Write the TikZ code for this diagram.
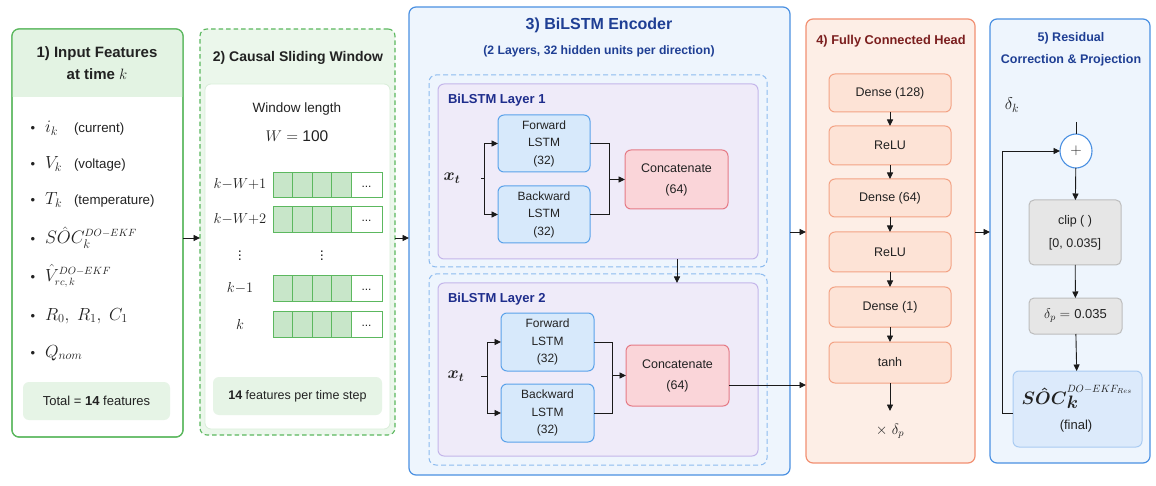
\RequirePackage{fix-cm}
\documentclass[tikz,border=0pt]{standalone}
\usepackage{fontspec}
\setmainfont{Liberation Sans}
\usetikzlibrary{arrows.meta,shapes.geometric,calc}
\definecolor{txt}{HTML}{222222}
\definecolor{gBorder}{HTML}{5CB85F}
\definecolor{gHdr}{HTML}{E3F3E3}
\definecolor{gSoft}{HTML}{E6F4E6}
\definecolor{gCell}{HTML}{C8E6C9}
\definecolor{gInner}{HTML}{D9EED9}
\definecolor{bBorder}{HTML}{4A90E2}
\definecolor{bFill}{HTML}{EEF5FD}
\definecolor{bTitle}{HTML}{1F3F94}
\definecolor{bDash}{HTML}{8DBBEF}
\definecolor{pFill}{HTML}{EFEBF9}
\definecolor{pBorder}{HTML}{C4B6EA}
\definecolor{lTitle}{HTML}{1E2D8C}
\definecolor{lstmFill}{HTML}{D7E9FB}
\definecolor{lstmBorder}{HTML}{5AA2EA}
\definecolor{catFill}{HTML}{FAD5D9}
\definecolor{catBorder}{HTML}{E57A86}
\definecolor{oBorder}{HTML}{F29072}
\definecolor{oFill}{HTML}{FDEEE6}
\definecolor{oBox}{HTML}{FDE3D6}
\definecolor{oBoxB}{HTML}{F3A385}
\definecolor{oTitle}{HTML}{7B1E1E}
\definecolor{grFill}{HTML}{E6E6E6}
\definecolor{grBorder}{HTML}{BDBDBD}
\definecolor{finFill}{HTML}{DCEAFB}
\definecolor{finBorder}{HTML}{A9CBF2}
\definecolor{lineC}{HTML}{1A1A1A}
\newcommand\rbox[7]{\node[#2, minimum width={#5pt-#3pt}, minimum height={#6pt-#4pt}] (#1) at ({(#3+#5)/2},{(#4+#6)/2}) {#7};}
\newcommand\fs[2]{\fontsize{#1}{#2}\selectfont}
\newcommand\supsm[1]{\mbox{\fs{10.5}{12}$#1$}}
\begin{document}
\begin{tikzpicture}[x=1pt,y=-1pt,
  every node/.style={inner sep=0pt, outer sep=0pt, align=center, text=txt},
  arr/.style={-{Triangle[length=6.5pt,width=6pt]}, line width=0.9pt, draw=lineC},
  ln/.style={line width=0.9pt, draw=lineC},
  panelG/.style={draw=gBorder, line width=1.2pt, rounded corners=7pt, fill=white},
  panelGd/.style={draw=gBorder, line width=1.1pt, dash pattern=on 4.5pt off 3pt, rounded corners=7pt, fill=gHdr!70!white},
  panelB/.style={draw=bBorder, line width=1.2pt, rounded corners=7pt, fill=bFill},
  panelO/.style={draw=oBorder, line width=1.2pt, rounded corners=7pt, fill=oFill},
  softG/.style={fill=gSoft, rounded corners=6pt},
  innerW/.style={fill=white, draw=gInner, line width=0.8pt, rounded corners=6pt},
  dashB/.style={draw=bDash, line width=1pt, dash pattern=on 5pt off 3pt, rounded corners=7pt},
  layerbox/.style={draw=pBorder, line width=1pt, fill=pFill, rounded corners=6pt},
  lstm/.style={draw=lstmBorder, line width=1pt, fill=lstmFill, rounded corners=6pt, font=\fs{12}{17.5}},
  cat/.style={draw=catBorder, line width=1pt, fill=catFill, rounded corners=6pt, font=\fs{12.5}{21}},
  fc/.style={draw=oBoxB, line width=1pt, fill=oBox, rounded corners=6pt, font=\fs{12.5}{15}},
  gr/.style={draw=grBorder, line width=1pt, fill=grFill, rounded corners=5pt, font=\fs{12.5}{23}},
  fin/.style={draw=finBorder, line width=1pt, fill=finFill, rounded corners=6pt, font=\fs{12.5}{15}},
  cellG/.style={draw=gBorder, line width=0.9pt, fill=gCell},
  cellW/.style={draw=gBorder, line width=0.9pt, fill=white},
  item/.style={anchor=base west, font=\fs{17.5}{19}},
  itemtxt/.style={anchor=base west, font=\fs{13.3}{15}},
  bul/.style={anchor=base, font=\fs{13}{15}},
  rowlab/.style={font=\fs{14.5}{16}},
]
\useasboundingbox (0,0) rectangle (1156,486);
\fill[white] (0,0) rectangle (1156,486);

% ---------------- Panel 1 ----------------
\rbox{p1}{panelG}{12}{29}{183}{437}{}
\begin{scope}
  \clip[rounded corners=7pt] (12,29) rectangle (183,437);
  \fill[gHdr] (12,29) rectangle (183,97);
\end{scope}
\draw[draw=gBorder, line width=1.2pt, rounded corners=7pt] (12,29) rectangle (183,437);
\node[font=\fs{15}{22}\bfseries] (t1) at (97,63) {1) Input Features\\at time $k$};
\foreach \n/\y in {a/133,b/169,c/205,d/244,e/281,f/320,g/357}{
  \node[bul] (bu\n) at (33,\y) {\textbullet};
}
\node[item] (i1) at (45,133) {$i_k$};
\node[itemtxt] (i1t) at (74,133) {(current)};
\node[item] (i2) at (45,169) {$V_k$};
\node[itemtxt] (i2t) at (74,169) {(voltage)};
\node[item] (i3) at (45,205) {$T_k$};
\node[itemtxt] (i3t) at (74,205) {(temperature)};
\node[item, font=\fs{18}{19}] (i4) at (45,244) {$S\hat{O}C_k^{\supsm{DO{-}EKF}}$};
\node[item] (i5) at (45,281) {$\hat{V}_{\supsm{rc,k}}^{\supsm{DO{-}EKF}}$};
\node[item] (i6) at (45,320) {$R_0,\ R_1,\ C_1$};
\node[item] (i7) at (45,357) {$Q_{nom}$};
\rbox{tot}{softG, font=\fs{13}{15}}{23}{382}{170}{420}{Total = \textbf{14} features}

% ---------------- Panel 2 ----------------
\rbox{p2}{panelGd}{200}{29}{395}{435}{}
\rbox{in2}{innerW}{205}{84}{390}{429}{}
\node[font=\fs{14}{16}\bfseries] (t2) at (298,58) {2) Causal Sliding Window};
\node[font=\fs{13.5}{16}] (wl) at (297,109) {Window length};
\node[font=\fs{15.5}{16}] (wv) at (297,136) {$W =$ 100};
\foreach \n/\ya/\yb in {r1/172/197, r2/206/232, r3/275/301, r4/311/337}{
  \foreach \i in {0,1,2,3}{
    \draw[cellG] ({273+19.5*\i},\ya) rectangle ({273+19.5*(\i+1)},\yb);
  }
  \draw[cellW] (351,\ya) rectangle (382,\yb);
  \node[font=\fs{12}{14}] (\n dots) at (366.5,{(\ya+\yb)/2+2}) {...};
}
\node[rowlab] (k1) at (240,184) {$k{-}W{+}1$};
\node[rowlab] (k2) at (240,219) {$k{-}W{+}2$};
\node[rowlab] (kv1) at (240,253) {$\vdots$};
\node[rowlab] (kv2) at (322,253) {$\vdots$};
\node[rowlab] (k3) at (240,288) {$k{-}1$};
\node[rowlab] (k4) at (240,324) {$k$};
\rbox{fp}{softG, font=\fs{12.5}{15}}{213}{377}{382}{415}{\textbf{14} features per time step}

% ---------------- Panel 3 ----------------
\rbox{p3}{panelB}{409}{7}{790}{475}{}
\node[font=\fs{16}{18}\bfseries, text=bTitle] (t3) at (599,25) {3) BiLSTM Encoder};
\node[font=\fs{12.2}{14}\bfseries, text=bTitle] (t3b) at (599,51) {(2 Layers, 32 hidden units per direction)};
\rbox{dl1}{dashB}{429}{75}{767}{267}{}
\rbox{dl2}{dashB}{429}{274}{767}{465}{}
\rbox{l1}{layerbox}{438}{84}{758}{259}{}
\rbox{l2}{layerbox}{438}{283}{758}{456}{}
\node[anchor=west, font=\fs{13}{15}\bfseries, text=lTitle] (lt1) at (448,100) {BiLSTM Layer 1};
\node[anchor=west, font=\fs{13}{15}\bfseries, text=lTitle] (lt2) at (448,299) {BiLSTM Layer 2};
% layer 1
\rbox{f1}{lstm}{498}{115}{590}{172}{Forward\\LSTM\\(32)}
\rbox{b1}{lstm}{498}{186}{590}{243}{Backward\\LSTM\\(32)}
\rbox{c1}{cat}{625}{150}{728}{209}{Concatenate\\(64)}
\node[font=\fs{17}{19}\boldmath] (xt1) at (452,178) {$x_t$};
\coordinate (s1) at (481,178);
\coordinate (br1) at (484,178);
\coordinate (m1) at (609,179.5);
\draw[ln] (s1) -- (br1);
\draw[arr] (br1) |- (f1.west);
\draw[arr] (br1) |- (b1.west);
\draw[ln] (f1.east) -| (m1);
\draw[ln] (b1.east) -| (m1);
\draw[arr] (m1) -- (c1.west);
% layer 2
\rbox{f2}{lstm}{501}{313}{594}{371}{Forward\\LSTM\\(32)}
\rbox{b2}{lstm}{501}{384}{594}{442}{Backward\\LSTM\\(32)}
\rbox{c2}{cat}{626}{345}{729}{406}{Concatenate\\(64)}
\node[font=\fs{17}{19}\boldmath] (xt2) at (456,376) {$x_t$};
\coordinate (s2) at (481,376);
\coordinate (br2) at (487,376);
\coordinate (m2) at (612,375.5);
\draw[ln] (s2) -- (br2);
\draw[arr] (br2) |- (f2.west);
\draw[arr] (br2) |- (b2.west);
\draw[ln] (f2.east) -| (m2);
\draw[ln] (b2.east) -| (m2);
\draw[arr] (m2) -- (c2.west);
% layer1 -> layer2
\coordinate (x677) at (677,0);
\draw[arr] (l1.south -| x677) -- (l2.north -| x677);

% ---------------- Panel 4 ----------------
\rbox{p4}{panelO}{806}{19}{975}{463}{}
\node[font=\fs{12.8}{15}\bfseries, text=oTitle] (t4) at (891,41) {4) Fully Connected Head};
\rbox{d128}{fc}{829}{74}{951}{112}{Dense (128)}
\rbox{re1}{fc}{829}{126}{951}{165}{ReLU}
\rbox{d64}{fc}{829}{179}{951}{217}{Dense (64)}
\rbox{re2}{fc}{829}{232}{951}{272}{ReLU}
\rbox{d1}{fc}{829}{287}{951}{327}{Dense (1)}
\rbox{th}{fc}{829}{342}{951}{383}{tanh}
\draw[arr] (d128) -- (re1);
\draw[arr] (re1) -- (d64);
\draw[arr] (d64) -- (re2);
\draw[arr] (re2) -- (d1);
\draw[arr] (d1) -- (th);
\node[font=\fs{15}{16}] (xdp) at (890,431) {$\times\ \delta_p$};
\coordinate (thend) at (890,411);
\draw[arr] (th.south) -- (thend);

% ---------------- Panel 5 ----------------
\rbox{p5}{panelB}{990}{19}{1150}{463}{}
\node[font=\fs{12.5}{22}\bfseries, text=bTitle] (t5) at (1071,49) {5) Residual\\Correction \& Projection};
\node[font=\fs{17}{18}] (dk) at (1012,105) {$\delta_k$};
\node[ellipse, draw=bBorder, line width=1.1pt, fill=white, minimum width=32pt, minimum height=34pt, font=\fs{15}{16}] (plus) at (1076,151) {$+$};
\coordinate (ptop) at (1076,122);
\draw[ln] (ptop) -- (plus.north);
\rbox{clip}{gr}{1029}{200}{1121}{265}{clip ( )\\{}[0, 0.035]}
\rbox{dp}{gr, font=\fs{14}{16}}{1029}{298}{1122}{334}{$\delta_p =$ {\fs{13}{16}0.035}}
\rbox{fin}{fin}{1013}{371}{1142}{447}{}
\node[font=\fs{18}{19}] (soc) at (1077,397) {$\mbox{\boldmath$S\hat{O}C$}_{\mbox{\boldmath$k$}}^{\supsm{DO{-}EKF_{Res}}}$};
\node[font=\fs{13}{15}] (finl) at (1076,426) {(final)};
\draw[arr] (plus) -- (clip);
\draw[arr] (clip) -- (dp);
\draw[arr] (dp) -- (fin);
\coordinate (fb) at (1002,413);
\draw[arr] (fin.west |- fb) -- (fb) |- (plus.west);

% ---------------- inter-panel arrows ----------------
\coordinate (y238) at (0,238);
\coordinate (y232) at (0,232);
\coordinate (y385) at (0,385);
\draw[arr] (p1.east |- y238) -- (p2.west |- y238);
\draw[arr] (p2.east |- y238) -- (p3.west |- y238);
\draw[arr] (p3.east |- y232) -- (p4.west |- y232);
\draw[arr] (c2.east |- y385) -- (p4.west |- y385);
\draw[arr] (p4.east |- y232) -- (p5.west |- y232);
\end{tikzpicture}
\end{document}
